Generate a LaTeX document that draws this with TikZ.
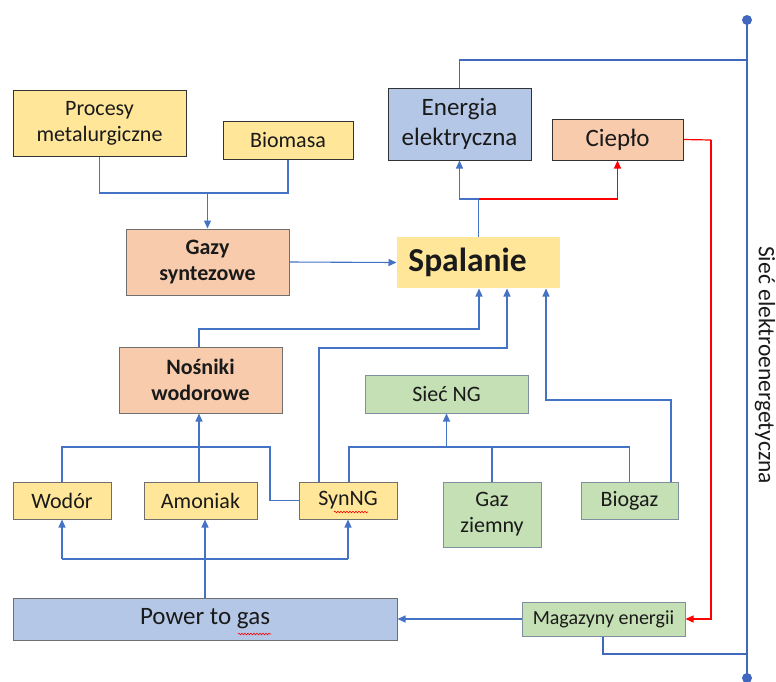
\documentclass[tikz,border=0pt]{standalone}
\usepackage{fontspec}
\setmainfont{Carlito}
\usetikzlibrary{arrows.meta,decorations.pathmorphing}
\definecolor{yel}{HTML}{FFE699}
\definecolor{ora}{HTML}{F8CBAD}
\definecolor{blu}{HTML}{B4C7E7}
\definecolor{gre}{HTML}{C5E0B4}
\definecolor{lineblue}{HTML}{4472C4}
\definecolor{gridblue}{HTML}{3F68BE}
\definecolor{redl}{HTML}{FF0000}
\definecolor{txt}{HTML}{1A1A1A}
\definecolor{bdark}{HTML}{333333}
\definecolor{bgray}{HTML}{6F6F6F}
\definecolor{bgreen}{HTML}{7F8F9F}
\tikzset{
  box/.style={rectangle, inner sep=0pt, align=center, text=txt, line width=1pt,
    font=\fontsize{22}{26}\selectfont},
  conn/.style={draw=lineblue, line width=1.1pt},
  arr/.style={conn, -{Triangle[length=8pt,width=7pt]}},
  redc/.style={draw=redl, line width=1.2pt},
  redarr/.style={redc, -{Triangle[length=8pt,width=7pt]}},
  gridl/.style={draw=gridblue, line width=2.4pt},
  gridh/.style={draw=gridblue, line width=1.6pt},
  squig/.style={draw=redl, line width=0.6pt, decorate,
    decoration={snake, amplitude=0.8pt, segment length=3pt}}
}
\begin{document}
\begin{tikzpicture}[x=1pt,y=-1pt]
\useasboundingbox (0,0) rectangle (776,681);
% boxes
\node[box, fill=yel, draw=bdark, minimum width=173, minimum height=66] (proc) at (99.5,123) {Procesy\\metalurgiczne};
\node[box, fill=yel, draw=bdark, minimum width=130, minimum height=38] (bio) at (288,140) {Biomasa};
\node[box, fill=ora, draw=bgray, minimum width=163, minimum height=66, font=\fontsize{22}{26}\selectfont\bfseries] (gazy) at (207.5,262) {Gazy\\syntezowe};
\node[box, fill=blu, draw=bdark, minimum width=143, minimum height=72, font=\fontsize{25}{30}\selectfont] (ener) at (459.5,124) {Energia\\elektryczna};
\node[box, fill=ora, draw=bdark, minimum width=131, minimum height=41, font=\fontsize{25}{30}\selectfont] (ciep) at (617.5,139.5) {Ciepło};
\node[box, fill=yel, minimum width=163, minimum height=51, font=\fontsize{33.5}{38}\selectfont\bfseries] (spal) at (478.5,262.5) {Spalanie\hspace*{22pt}};
\node[box, fill=ora, draw=bgray, minimum width=163, minimum height=66, font=\fontsize{22}{26}\selectfont\bfseries] (nosn) at (200.5,380) {Nośniki\\wodorowe};
\node[box, fill=gre, draw=bgreen, minimum width=163, minimum height=38] (siec) at (446.5,394) {Sieć NG};
\node[box, fill=yel, draw=bgray, minimum width=98, minimum height=37] (wodor) at (62,500.5) {Wodór};
\node[box, fill=yel, draw=bgray, minimum width=113, minimum height=37] (amon) at (200.5,500.5) {Amoniak};
\node[box, fill=yel, draw=bgray, minimum width=98, minimum height=37] (syn) at (348,500.5) {SynNG};
\node[box, fill=gre, draw=bgreen, minimum width=98, minimum height=65] (gaz) at (492,514.5) {Gaz\\ziemny};
\node[box, fill=gre, draw=bgreen, minimum width=97, minimum height=37] (biog) at (629.5,500.5) {Biogaz};
\node[box, fill=blu, draw=bgray, minimum width=384, minimum height=42, font=\fontsize{25}{30}\selectfont] (p2g) at (205,619) {Power to gas};
\node[box, fill=gre, draw=bgreen, minimum width=163, minimum height=34, font=\fontsize{20}{24}\selectfont] (mag) at (603.5,619) {Magazyny energii};
% spell-check squiggles
\draw[squig] (334,512) -- (368,512);
\draw[squig] (238,634) -- (271,634);
% coordinates
\coordinate (j1) at (207.5,193);
\coordinate (j2) at (478.5,199);
\coordinate (gtop) at (747,20);
\coordinate (gbot) at (747,678);
\coordinate (gh1) at (747,60);
\coordinate (gh2) at (747,654);
\coordinate (rc) at (711,140);
\coordinate (pj) at (205,559);
\coordinate (nj) at (446.5,447);
% top-left gathering
\draw[conn] (proc.south) |- (j1) -| (bio.south);
\draw[arr] (j1) -- (gazy.north);
\draw[arr] (gazy.east) -- (spal.west);
% combustion outputs
\draw[conn] (spal.north) -- (j2);
\draw[arr] (j2) -| (ener.south);
\draw[redarr] (j2) -| (ciep.south);
\draw[redc] (ciep.east) -- (rc);
\draw[redarr] (rc) |- (mag.east);
% grid
\draw[gridl] (gtop) -- (gbot);
\fill[gridblue] (gtop) circle (5);
\fill[gridblue] (gbot) circle (5);
\draw[gridh] (gh1) -| (ener.north);
\draw[gridh] (mag.south -| 603,0) |- (gh2);
\node[rotate=-90, anchor=north, text=txt, font=\fontsize{23.5}{28}\selectfont, inner sep=0pt] (lbl) at (775.5,365) {Sieć elektroenergetyczna};
% storage to power-to-gas
\draw[arr] (mag.west) -- (p2g.east);
% power to gas outputs
\draw[arr] (p2g.north -| pj) -- (amon.south -| pj);
\draw[conn] (wodor.south |- pj) -- (syn.south |- pj);
\draw[arr] (wodor.south |- pj) -- (wodor.south);
\draw[arr] (syn.south |- pj) -- (syn.south);
% hydrogen carriers
\draw[arr] (amon.north -| 199,0) -- (nosn.south -| 199,0);
\draw[conn] (wodor.north) |- (270,447) |- (syn.west);
% to Spalanie
\draw[arr] (nosn.north -| 199,0) |- (479,329) -- (spal.south -| 479,0);
\draw[arr] (syn.north -| 319,0) |- (507,348) -- (spal.south -| 507,0);
\draw[arr] (biog.north -| 671,0) |- (546,400) -- (spal.south -| 546,0);
% natural gas network
\draw[conn] (syn.north -| 349,0) |- (nj) -| (biog.north);
\draw[conn] (gaz.north) -- (gaz.north |- nj);
\draw[arr] (nj) -- (siec.south);
\end{tikzpicture}
\end{document}
